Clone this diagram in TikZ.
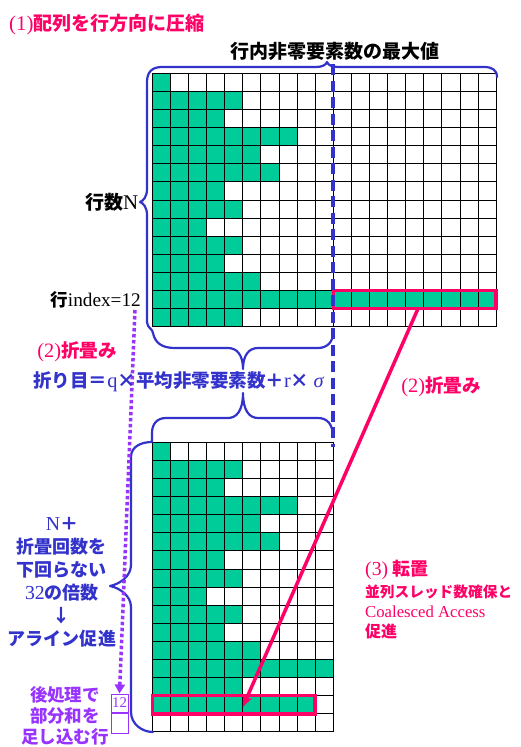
\documentclass[tikz,border=0pt]{standalone}
\usepackage{fontspec}
\setmainfont{Liberation Serif}
\newfontfamily\jp{Noto Sans CJK JP}
\newfontfamily\latf{Liberation Serif}[Scale=1.1]
\usetikzlibrary{arrows.meta}
\definecolor{cgreen}{RGB}{0,204,153}
\definecolor{cblue}{RGB}{51,51,204}
\definecolor{cpink}{RGB}{255,0,102}
\definecolor{cpurple}{RGB}{153,51,255}
\newcommand{\jpfs}[2]{\jp\bfseries\fontsize{#1}{#2}\selectfont}
\newcommand{\lat}{\latf\mdseries}
\tikzset{
  lbl/.style={inner sep=0pt},
  gridline/.style={black, line width=0.9pt},
  bracestyle/.style={cblue, line width=2.2pt, line cap=round, line join=round},
  pinkbox/.style={cpink, line width=3.5pt},
  smallbox/.style={draw=cpurple, line width=1pt, minimum width=17pt, inner sep=0pt},
}
\begin{document}
\begin{tikzpicture}[x=1pt,y=-1pt]
\useasboundingbox (0,0) rectangle (521,747);
\clip (0,0) rectangle (521,747);
\fill[white] (0,0) rectangle (521,747);

% ---------- top grid ----------
\begin{scope}[shift={(152.3,73.3)},x=18.1pt,y=-18.1pt]
  \foreach \n [count=\r from 0] in {1,5,4,8,6,7,4,5,3,5,4,6,19,5}
    \fill[cgreen] (0,\r) rectangle (\n,\r+1);
  \foreach \i in {0,...,19} \draw[gridline] (\i,0) -- (\i,14);
  \foreach \j in {0,...,14} \draw[gridline] (0,\j) -- (19,\j);
  \draw[pinkbox] (10,12) rectangle (19,13);
  \coordinate (foldsrc) at (14.68,13);
\end{scope}

% ---------- lower grid ----------
\begin{scope}[shift={(152.3,442.3)},x=18.1pt,y=-18.1pt]
  \foreach \n [count=\r from 0] in {1,5,4,8,6,7,4,5,3,5,4,6,10,5,9,0}
    \fill[cgreen] (0,\r) rectangle (\n,\r+1);
  \foreach \i in {0,...,10} \draw[gridline] (\i,0) -- (\i,16);
  \foreach \j in {0,...,16} \draw[gridline] (0,\j) -- (10,\j);
  \draw[pinkbox] (0,14) rectangle (9,15);
  \coordinate (folddst) at (5,14.62);
\end{scope}

% ---------- dashed fold line ----------
\draw[cblue, line width=4pt, dash pattern=on 11pt off 5.5pt] (333.3,64) -- (333.3,447);

% ---------- braces around the top grid ----------
\draw[bracestyle] (497,77) .. controls (497,70) and (492,67) .. (484,67)
  -- (338,67) .. controls (332,67) and (328,65) .. (327,62)
  .. controls (326,65) and (322,67) .. (316,67)
  -- (162,67) .. controls (152,67) and (147,72) .. (147,82)
  -- (147,189) .. controls (147,197) and (143,201) .. (140,202)
  .. controls (143,203) and (147,207) .. (147,215)
  -- (147,322) .. controls (147,328) and (153,329) .. (153,333)
  .. controls (155,343) and (162,348) .. (175,348)
  -- (228,348) .. controls (237,348) and (243,355) .. (243,369)
  .. controls (243,355) and (249,348) .. (258,348)
  -- (318,348) .. controls (327,348) and (333,342) .. (333,333);

% ---------- braces around the lower grid ----------
\draw[bracestyle] (333,437) .. controls (333,424) and (327,418) .. (318,418)
  -- (258,418) .. controls (249,418) and (243,410) .. (243,393)
  .. controls (243,410) and (237,418) .. (228,418)
  -- (166,418) .. controls (157,418) and (152,424) .. (152,433)
  -- (152,442) .. controls (142,442) and (131,446) .. (131,457)
  -- (131,565) .. controls (131,576) and (120,584) .. (110,586)
  .. controls (120,588) and (131,596) .. (131,607)
  -- (131,712) .. controls (131,724) and (142,732) .. (153,732);

% ---------- pink fold arrow ----------
\draw[cpink, line width=3.5pt, -{Stealth[length=12pt,width=10pt]}] (foldsrc) -- (folddst);

% ---------- purple boxes and dotted arrow ----------
\node[smallbox, minimum height=18pt, text=cpurple, font=\lat\fontsize{13.5}{14}\selectfont] (box12) at (119.5,703) {12};
\node[smallbox, minimum height=20pt, anchor=north] (boxempty) at (box12.south) {};
\coordinate (dotsrc) at (135,310);
\draw[cpurple, line width=3.5pt, dash pattern=on 3.5pt off 2.5pt, -{Triangle[length=9pt,width=10pt]}] (dotsrc) -- (box12.north);

% ---------- texts ----------
\node[lbl, anchor=west, text=cpink, font=\jpfs{19}{23}] (title) at (9,25) {{\lat (1)}配列を行方向に圧縮};
\node[lbl, text=black, font=\jpfs{19}{23}] (maxlab) at (335,51) {行内非零要素数の最大値};
\node[lbl, anchor=east, text=black, font=\jpfs{19}{23}] (rowsN) at (138.5,202) {行数{\lat N}};
\node[lbl, anchor=east, text=black, font=\jpfs{17.5}{22}] (idx) at (141,300) {行{\lat index=12}};
\node[lbl, text=cpink, font=\jpfs{18.5}{23}] (foldL) at (77,352) {{\lat (2)}折畳み};
\node[lbl, text=cblue, font=\jpfs{18.5}{23}] (formula) at (178.5,382) {折り目＝{\lat q}×平均非零要素数＋{\lat r}× {\lat\itshape σ}};
\node[lbl, text=cpink, font=\jpfs{18.5}{23}] (foldR) at (441,387) {{\lat (2)}折畳み};
\node[lbl, text=cblue, align=center, font=\jpfs{18}{23}] (nblock) at (62,582.5)
  {{\lat N}＋\\折畳回数を\\下回らない\\{\lat 32}の倍数\\↓\\アライン促進};
\node[lbl, text=cpurple, align=center, font=\jpfs{17.5}{21}] (post) at (65,716)
  {後処理で\\部分和を\\足し込む行};
\node[lbl, anchor=west, text=cpink, font=\jpfs{18}{22}] (tr1) at (365,570) {{\lat (3)} 転置};
\node[lbl, anchor=west, text=cpink, font=\jpfs{14.7}{18}] (tr2) at (365,592) {並列スレッド数確保と};
\node[lbl, anchor=west, text=cpink, font=\lat\fontsize{15.2}{20}\selectfont] (tr3) at (365,612) {Coalesced Access};
\node[lbl, anchor=west, text=cpink, font=\jpfs{16}{20}] (tr4) at (365,631) {促進};
\end{tikzpicture}
\end{document}
